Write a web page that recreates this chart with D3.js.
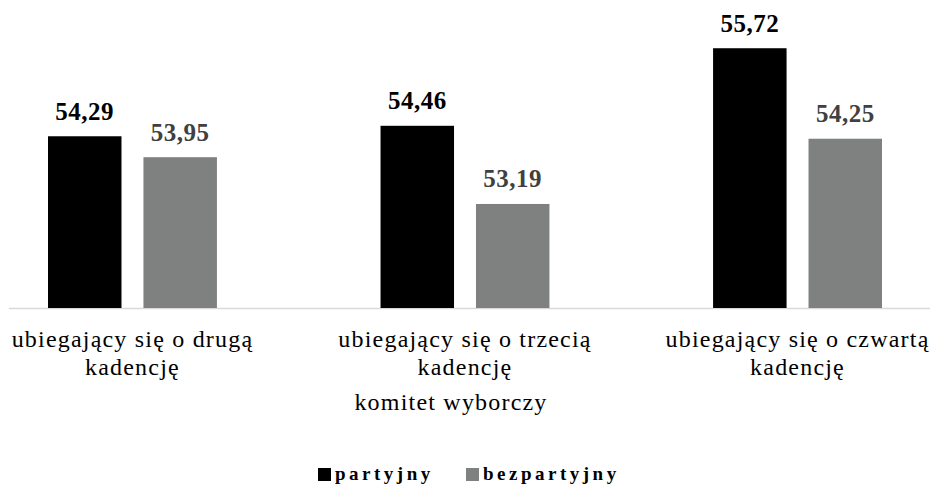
<!DOCTYPE html>
<html>
<head>
<meta charset="utf-8">
<script src="https://cdn.jsdelivr.net/npm/d3@7"></script>
<style>
  body { margin: 0; background: #fff; }
  svg { display: block; }
</style>
</head>
<body>
<div id="my_datavis"></div>
<script>
var categories = [
  ["ubiegający się o drugą", "kadencję"],
  ["ubiegający się o trzecią", "kadencję"],
  ["ubiegający się o czwartą", "kadencję"]
]
var seriesNames = ["partyjny", "bezpartyjny"]
var partyjny = [54.29, 54.46, 55.72]
var bezpartyjny = [53.95, 53.19, 54.25]
var axisTitle = "komitet wyborczy"

var width = 930, height = 484

var svg = d3.select("#my_datavis")
  .append("svg")
  .attr("width", width)
  .attr("height", height)

var barColors = ["#000000", "#7f8080"]
var labelColors = ["#000000", "#404040"]

var fmt = d3.formatLocale({ decimal: ",", thousands: " ", grouping: [3], currency: ["", ""] }).format(".2f")

var groupKeys = categories.map(function(d, i) { return "g" + i })

var x0 = d3.scaleBand()
  .domain(groupKeys)
  .range([48, 882])
  .paddingInner(0.492)

var x1 = d3.scaleBand()
  .domain(seriesNames)
  .range([0, x0.bandwidth()])
  .paddingInner(0.23)

var y = d3.scaleLinear()
  .domain([51.5, 56])
  .range([308, 31])

var data = []
groupKeys.forEach(function(g, i) {
  data.push({ group: g, series: "partyjny", value: partyjny[i], s: 0 })
  data.push({ group: g, series: "bezpartyjny", value: bezpartyjny[i], s: 1 })
})

// baseline
svg.append("line")
  .attr("x1", 9).attr("x2", width)
  .attr("y1", y(51.5) + 0.5).attr("y2", y(51.5) + 0.5)
  .attr("stroke", "#d9d9d9")
  .attr("stroke-width", 1.5)

svg.selectAll(".bar")
  .data(data)
  .enter().append("rect")
  .attr("class", "bar")
  .attr("x", function(d) { return x0(d.group) + x1(d.series) })
  .attr("y", function(d) { return y(d.value) })
  .attr("width", x1.bandwidth())
  .attr("height", function(d) { return y(51.5) - y(d.value) })
  .attr("fill", function(d) { return barColors[d.s] })

svg.selectAll(".vlabel")
  .data(data)
  .enter().append("text")
  .attr("class", "vlabel")
  .attr("x", function(d) { return x0(d.group) + x1(d.series) + x1.bandwidth() / 2 })
  .attr("y", function(d) { return y(d.value) - 16.5 })
  .attr("text-anchor", "middle")
  .style("font-family", "'Liberation Serif', 'Times New Roman', serif")
  .style("font-weight", "bold")
  .style("font-size", "25px")
  .style("letter-spacing", "0.5px")
  .attr("fill", function(d) { return labelColors[d.s] })
  .text(function(d) { return fmt(d.value) })

// category labels
var catG = svg.selectAll(".cat")
  .data(categories)
  .enter().append("text")
  .attr("class", "cat")
  .attr("text-anchor", "middle")
  .style("font-family", "'Liberation Serif', 'Times New Roman', serif")
  .style("font-size", "24px")
  .style("letter-spacing", "1.2px")
  .attr("fill", "#000")

catG.selectAll("tspan")
  .data(function(d, i) { return d.map(function(t) { return { t: t, g: groupKeys[i] } }) })
  .enter().append("tspan")
  .attr("x", function(d) { return x0(d.g) + x0.bandwidth() / 2 })
  .attr("y", function(d, j) { return 347 + j * 28 })
  .text(function(d) { return d.t })

svg.append("text")
  .attr("x", 451)
  .attr("y", 410)
  .attr("text-anchor", "middle")
  .style("font-family", "'Liberation Serif', 'Times New Roman', serif")
  .style("font-size", "24px")
  .style("letter-spacing", "1.2px")
  .text(axisTitle)

// legend
var legendX = [318, 466]
var legend = svg.selectAll(".legend")
  .data(seriesNames)
  .enter().append("g")
  .attr("class", "legend")
  .attr("transform", function(d, i) { return "translate(" + legendX[i] + ",468)" })

legend.append("rect")
  .attr("width", 13).attr("height", 13)
  .attr("fill", function(d, i) { return barColors[i] })

legend.append("text")
  .attr("x", 17)
  .attr("y", 12)
  .style("font-family", "'Liberation Serif', 'Times New Roman', serif")
  .style("font-weight", "bold")
  .style("font-size", "19px")
  .style("letter-spacing", "3.5px")
  .text(function(d) { return d })
</script>
</body>
</html>
